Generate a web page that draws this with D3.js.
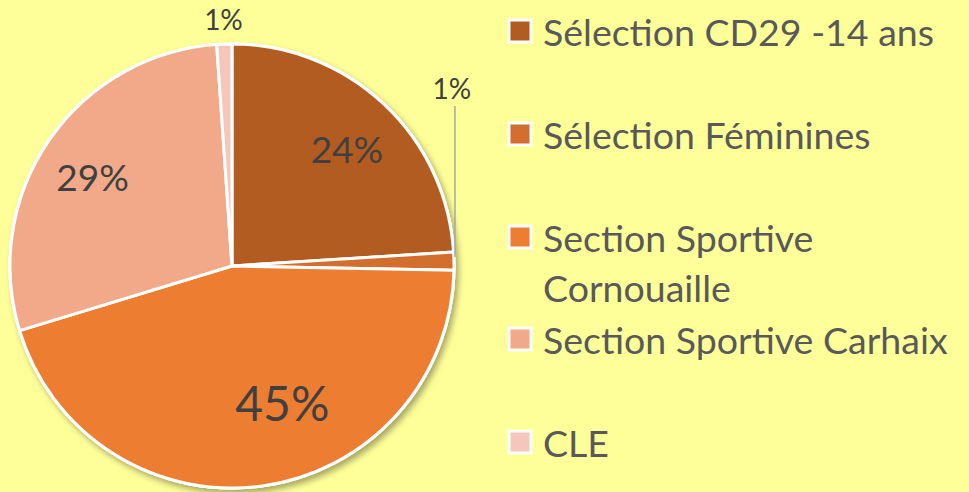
<!DOCTYPE html>
<html>
<head>
<meta charset="utf-8">
<script src="https://cdn.jsdelivr.net/npm/d3@7"></script>
<style>
  body { margin: 0; background: #ffff99; }
  svg { display: block; font-family: Lato, "Open Sans", sans-serif; }
</style>
</head>
<body>
<svg id="chart" width="969" height="492"></svg>
<script>
// data (share of total, in %)
const categories = ['Sélection CD29 -14 ans', 'Sélection Féminines', 'Section Sportive Cornouaille', 'Section Sportive Carhaix', 'CLE']
const values = [24.0, 1.3, 45.0, 28.6, 1.1]
const colors = ['#b35c21', '#d36f2e', '#ed7d31', '#f1a98a', '#f5c6ba']
const legendLines = [['Sélection CD29 -14 ans'], ['Sélection Féminines'], ['Section Sportive', 'Cornouaille'], ['Section Sportive Carhaix'], ['CLE']]

const width = 969
const height = 492
const cx = 232
const cy = 266
const radius = 222

const svg = d3.select('#chart')

svg.append('rect').attr('width', width).attr('height', height).attr('fill', '#ffff99')

const defs = svg.append('defs')
const shadow = defs.append('filter').attr('id', 'shadow').attr('x', '-10%').attr('y', '-10%').attr('width', '130%').attr('height', '130%')
shadow.append('feDropShadow')
  .attr('dx', 3).attr('dy', 4).attr('stdDeviation', 3)
  .attr('flood-color', '#000').attr('flood-opacity', 0.35)

const total = d3.sum(values)
const data = categories.map((c, i) => ({ name: c, value: values[i], color: colors[i] }))

const pie = d3.pie().sort(null).value((d) => d.value)
const arcs = pie(data)
const arc = d3.arc().innerRadius(0).outerRadius(radius)
const labelArc = d3.arc().innerRadius(radius * 0.73).outerRadius(radius * 0.73)

const g = svg.append('g').attr('transform', `translate(${cx},${cy})`)

// shadow disc underneath
g.append('circle').attr('r', radius + 1.5).attr('fill', '#fff').attr('filter', 'url(#shadow)')

g.selectAll('path.slice')
  .data(arcs)
  .enter()
  .append('path')
  .attr('class', 'slice')
  .attr('d', arc)
  .attr('fill', (d) => d.data.color)
  .attr('stroke', '#fff')
  .attr('stroke-width', 3)
  .attr('stroke-linejoin', 'round')

const pct = (d) => Math.round((d.data.value / total) * 100) + '%'

// small nudges so labels sit where the original layout put them
const nudge = { 'Sélection CD29 -14 ans': [4, 1], 'Section Sportive Cornouaille': [28, -24], 'Section Sportive Carhaix': [-6, 2] }
const bigSize = { 'Section Sportive Cornouaille': 48 }

arcs.filter((d) => d.data.value >= 5).forEach((d) => {
  const [x, y] = labelArc.centroid(d)
  const n = nudge[d.data.name] || [0, 0]
  g.append('text')
    .attr('x', x + n[0])
    .attr('y', y + n[1])
    .attr('text-anchor', 'middle')
    .attr('dominant-baseline', 'central')
    .attr('font-size', bigSize[d.data.name] || 37)
    .attr('fill', '#404040')
    .text(pct(d))
})

// small slices: labels outside
const small = arcs.filter((d) => d.data.value < 5)
small.forEach((d) => {
  const mid = (d.startAngle + d.endAngle) / 2
  if (d.data.name === 'CLE') {
    const p = d3.arc().innerRadius(radius + 25).outerRadius(radius + 25).centroid(d)
    g.append('text')
      .attr('x', p[0])
      .attr('y', p[1])
      .attr('text-anchor', 'middle')
      .attr('dominant-baseline', 'central')
      .attr('font-size', 28)
      .attr('fill', '#404040')
      .text(pct(d))
  } else {
    // leader from the slice edge straight up to the label
    const edge = [Math.sin(mid) * radius, -Math.cos(mid) * radius]
    const lx = edge[0] + 1
    g.append('line')
      .attr('x1', lx).attr('y1', edge[1] - 4)
      .attr('x2', lx).attr('y2', -160)
      .attr('stroke', '#a6a6a6').attr('stroke-width', 1.5)
    g.append('text')
      .attr('x', lx - 3)
      .attr('y', -178)
      .attr('text-anchor', 'middle')
      .attr('dominant-baseline', 'central')
      .attr('font-size', 28)
      .attr('fill', '#404040')
      .text(pct(d))
  }
})

// legend
const legendY = [31, 134, 237, 339, 442]
const legend = svg.append('g').attr('transform', 'translate(507,0)')
const items = legend.selectAll('g.item')
  .data(data)
  .enter()
  .append('g')
  .attr('class', 'item')
  .attr('transform', (d, i) => `translate(0,${legendY[i]})`)

items.append('rect')
  .attr('x', 2).attr('y', -11)
  .attr('width', 22).attr('height', 22)
  .attr('fill', (d) => d.color)
  .attr('stroke', '#fff').attr('stroke-width', 3)

items.each(function (d, i) {
  const t = d3.select(this).append('text')
    .attr('x', 36)
    .attr('y', 0)
    .attr('dominant-baseline', 'central')
    .attr('font-size', 37.5)
    .attr('fill', '#595959')
  legendLines[i].forEach((line, j) => {
    t.append('tspan').attr('x', 36).attr('dy', j === 0 ? 0 : 50).text(line)
  })
})
</script>
</body>
</html>
